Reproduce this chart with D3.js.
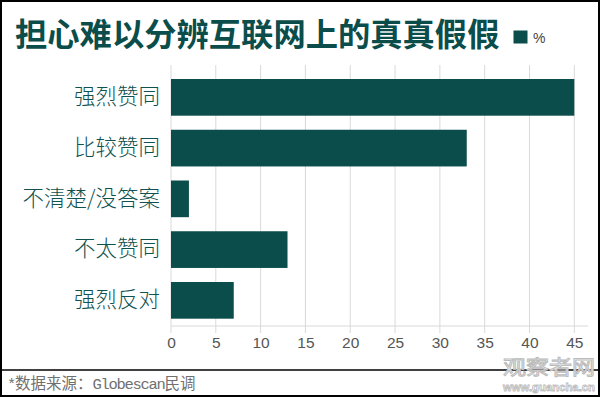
<!DOCTYPE html>
<html><head><meta charset="utf-8">
<script src="https://cdn.jsdelivr.net/npm/d3@7"></script>
<style>html,body{margin:0;padding:0;background:#fff}svg{display:block}</style>
</head><body>
<script>
const categories = ["强烈赞同","比较赞同","不清楚/没答案","不太赞同","强烈反对"];
const values = [45, 33, 2, 13, 7];
const xTicks = [0,5,10,15,20,25,30,35,40,45];
const title = "担心难以分辨互联网上的真真假假";
const legendLabel = "%";
const W = 600, H = 397;
const teal = "#0b4d4a";
const cjk = "'Noto Sans CJK SC','Noto Sans',sans-serif";

const svg = d3.select("body").append("svg").attr("width", W).attr("height", H);
svg.append("rect").attr("x",1).attr("y",1).attr("width",W-2).attr("height",H-2)
  .attr("fill","#fff").attr("stroke","#000").attr("stroke-width",2);

const x = d3.scaleLinear().domain([0,45]).range([171,574.3]);
const y = d3.scaleBand().domain(categories).range([71.7,326]).paddingInner(0.277).paddingOuter(0.144);

// grid
const g = svg.append("g");
g.selectAll("line.v").data(xTicks).join("line")
  .attr("x1",d=>x(d)).attr("x2",d=>x(d)).attr("y1",65).attr("y2",333)
  .attr("stroke","#d9d9d9").attr("stroke-width",1);
g.append("line").attr("x1",171).attr("x2",588).attr("y1",326).attr("y2",326)
  .attr("stroke","#d9d9d9");

// bars
svg.selectAll("rect.bar").data(values).join("rect").attr("class","bar")
  .attr("x",x(0)).attr("y",(d,i)=>y(categories[i]))
  .attr("width",d=>x(d)-x(0)).attr("height",y.bandwidth()).attr("fill",teal);

// x axis labels
const xa = svg.append("g").attr("transform","translate(0,333)")
  .call(d3.axisBottom(x).tickValues(xTicks).tickSize(0).tickPadding(4));
xa.select(".domain").remove();
xa.selectAll("text").attr("font-family","'Liberation Sans',Arial,sans-serif")
  .attr("font-size",15.5).attr("fill","#555");

// y axis labels
const ya = svg.append("g").attr("transform","translate(171,0)")
  .call(d3.axisLeft(y).tickSize(0).tickPadding(11));
ya.select(".domain").remove();
ya.selectAll("text").attr("font-family",cjk).attr("font-size",21.5)
  .attr("fill","#0f5250").attr("font-weight",300);

// title
svg.append("text").attr("x",15).attr("y",46).text(title)
  .attr("font-family",cjk).attr("font-weight",700).attr("font-size",32.3).attr("fill",teal);

// legend
svg.append("rect").attr("x",513.5).attr("y",30.5).attr("width",14).attr("height",13).attr("fill",teal);
svg.append("text").attr("x",533).attr("y",43).text(legendLabel)
  .attr("font-family","'Liberation Sans',Arial,sans-serif").attr("font-size",14).attr("fill","#444");

// footer
svg.append("line").attr("x1",1).attr("x2",599).attr("y1",370).attr("y2",370).attr("stroke","#000").attr("stroke-width",1.5);
const fcol = "#707070";
const mono = "'Liberation Mono','DejaVu Sans Mono',monospace";
const ft = svg.append("text").attr("x",7).attr("y",389).attr("fill",fcol).attr("font-size",15.5);
ft.append("tspan").text("*").attr("font-family",mono).attr("letter-spacing",-1.3);
ft.append("tspan").text("数据来源：").attr("font-family",cjk);
ft.append("tspan").text("Globescan").attr("font-family",mono).attr("letter-spacing",-1.3);
ft.append("tspan").text("民调").attr("font-family",cjk);

// watermark
const wm = svg.append("g");
wm.append("text").attr("x",549).attr("y",375).attr("text-anchor","middle").text("观察者网")
  .attr("font-family",cjk).attr("font-size",20).attr("fill","#fff").attr("stroke","#bbb").attr("stroke-width",1)
  .attr("textLength",92).attr("lengthAdjust","spacingAndGlyphs");
wm.append("text").attr("x",549).attr("y",391).attr("text-anchor","middle").text("www.guancha.cn")
  .attr("font-family","'Liberation Sans',Arial,sans-serif").attr("font-weight",700).attr("font-size",11)
  .attr("fill","#fff").attr("stroke","#bbb").attr("stroke-width",0.8)
  .attr("textLength",92).attr("lengthAdjust","spacingAndGlyphs");
</script>
</body></html>
